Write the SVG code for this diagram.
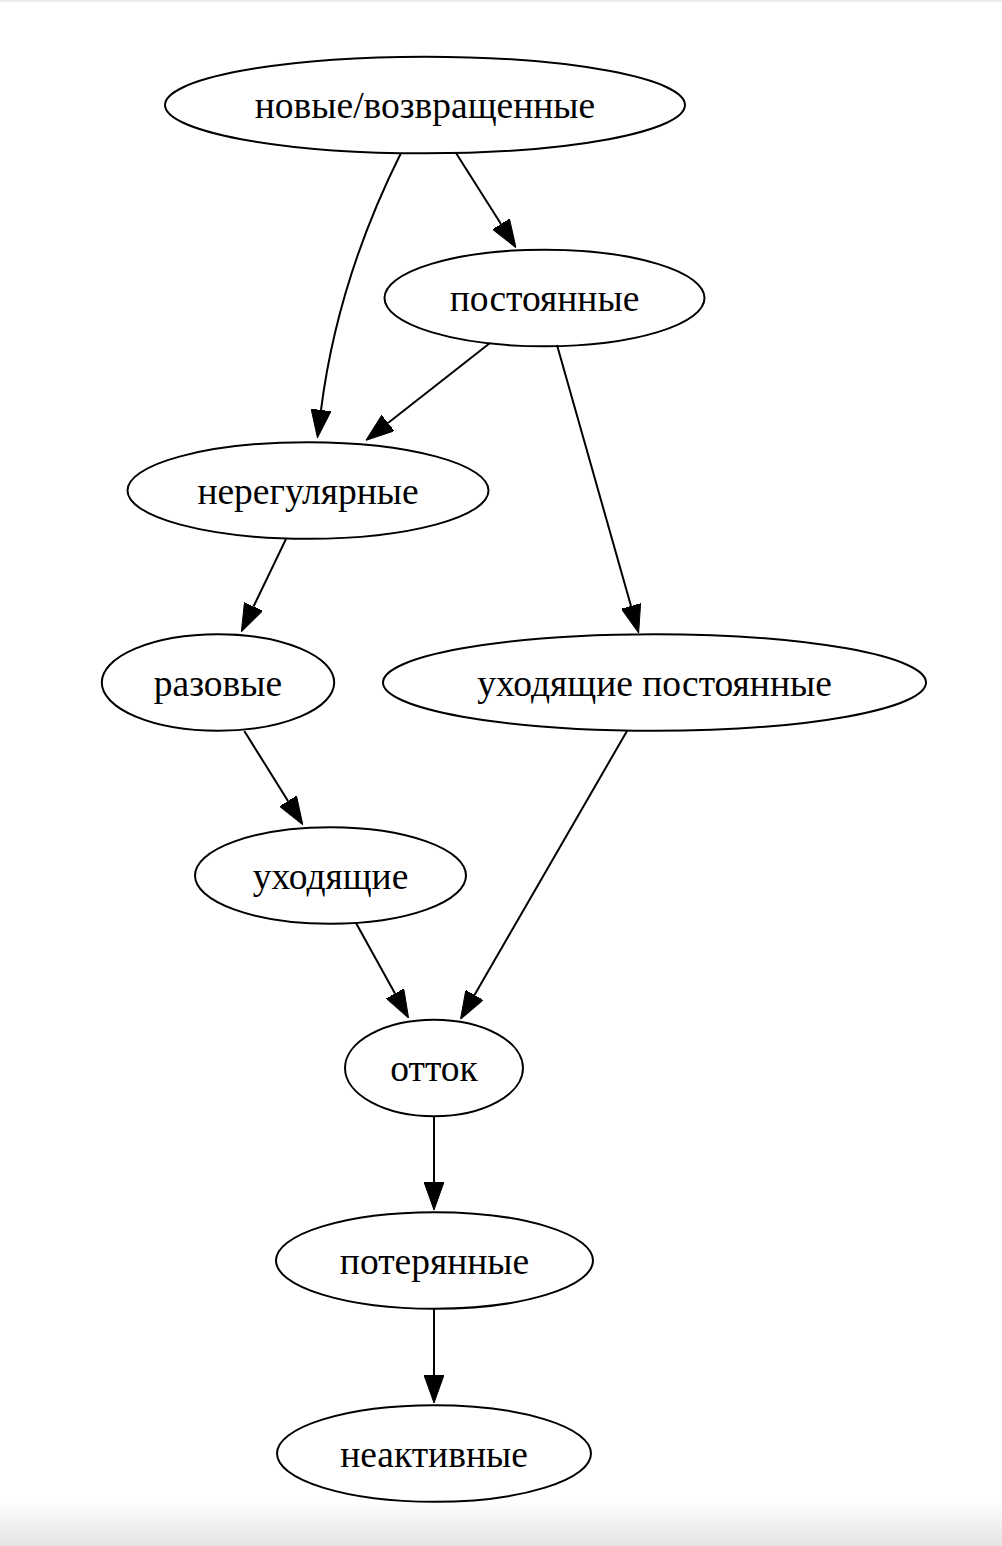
<svg xmlns="http://www.w3.org/2000/svg" width="1002" height="1546" viewBox="0 0 1002 1546">
<style>
.node ellipse{fill:none;stroke:#000;stroke-width:2}
.node text{font-family:"Liberation Serif","Times New Roman",serif;font-size:37.5px;fill:#000;text-anchor:middle}
.edge path{fill:none;stroke:#000;stroke-width:2;marker-end:url(#arrow)}
</style>
<defs>
<marker id="arrow" markerUnits="userSpaceOnUse" viewBox="0 0 28 20" refX="0" refY="10" markerWidth="28" markerHeight="20" orient="auto">
<path d="M0,0 L28,10 L0,20 Z" fill="#000" stroke="#000" stroke-width="1"/>
</marker>
<linearGradient id="shade" x1="0" y1="0" x2="0" y2="1">
<stop offset="0" stop-color="#fff"/>
<stop offset="1" stop-color="#e4e4e4"/>
</linearGradient>
</defs>
<rect x="0" y="0" width="1002" height="1546" fill="#fff"/>
<rect x="0" y="1500" width="1002" height="46" fill="url(#shade)"/>
<rect x="0" y="0" width="1002" height="2" fill="#ececec"/>
<g id="edges" class="edge">
<path d="M401,153 C370,215 335,300 321,410"/>
<path d="M456,153 L501,224"/>
<path d="M490,343 L388,423"/>
<path d="M557,345 L631,606"/>
<path d="M286,539 L253.5,606.5"/>
<path d="M244.3,731 L288,801"/>
<path d="M627,731 L474.5,995"/>
<path d="M356,923 L395,993.5"/>
<path d="M434,1116 L434,1182"/>
<path d="M434,1309 L434,1375"/>
</g>
<g id="n1" class="node"><ellipse cx="425" cy="105" rx="260" ry="48.3"/><text x="425" y="118">новые/возвращенные</text></g>
<g id="n2" class="node"><ellipse cx="544.5" cy="298" rx="160" ry="48.3"/><text x="544.5" y="311">постоянные</text></g>
<g id="n3" class="node"><ellipse cx="308" cy="490.5" rx="180.5" ry="48.3"/><text x="308" y="503.5">нерегулярные</text></g>
<g id="n4" class="node"><ellipse cx="218" cy="682.5" rx="116.2" ry="48.3"/><text x="218" y="695.5">разовые</text></g>
<g id="n5" class="node"><ellipse cx="654.5" cy="682.5" rx="271.5" ry="48.3"/><text x="654.5" y="695.5">уходящие постоянные</text></g>
<g id="n6" class="node"><ellipse cx="330.5" cy="875.5" rx="135.5" ry="48.3"/><text x="330.5" y="888.5">уходящие</text></g>
<g id="n7" class="node"><ellipse cx="434" cy="1068" rx="89" ry="48.3"/><text x="434" y="1081">отток</text></g>
<g id="n8" class="node"><ellipse cx="434.5" cy="1260.5" rx="158.5" ry="48.3"/><text x="434.5" y="1273.5">потерянные</text></g>
<g id="n9" class="node"><ellipse cx="434" cy="1453.5" rx="157" ry="48.3"/><text x="434" y="1466.5">неактивные</text></g>
</svg>
